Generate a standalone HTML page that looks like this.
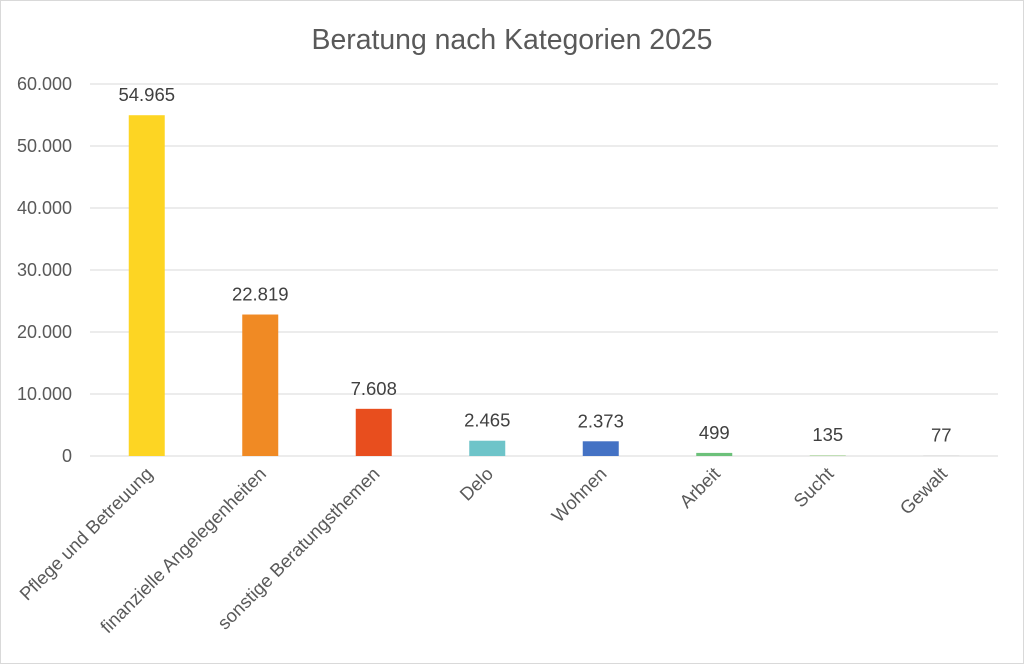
<!DOCTYPE html>
<html><head><meta charset="utf-8"><style>
body{margin:0;background:#fff}
svg{display:block;font-family:"Liberation Sans",sans-serif}
</style></head><body>
<svg id="c" width="1024" height="664">
<rect x="0.5" y="0.5" width="1023" height="663" fill="#fff" stroke="#d9d9d9"/>
<text x="512" y="49" text-anchor="middle" font-size="28.4" fill="#595959">Beratung nach Kategorien 2025</text>
<g id="grid"></g><g id="bars"></g>
</svg>
<script>
const categories=["Pflege und Betreuung","finanzielle Angelegenheiten","sonstige Beratungsthemen","Delo","Wohnen","Arbeit","Sucht","Gewalt"];
const values=[54965,22819,7608,2465,2373,499,135,77];
const valueLabels=["54.965","22.819","7.608","2.465","2.373","499","135","77"];
const colors=["#FDD523","#F08A24","#E84E1E","#6EC4C9","#4472C4","#6CC17A","#B5D9A8","#C8C8C8"];
const ticks=[0,10000,20000,30000,40000,50000,60000];
const tickLabels=["0","10.000","20.000","30.000","40.000","50.000","60.000"];
const NS="http://www.w3.org/2000/svg";
const x0=90,x1=998,y0=456,yTop=84,yMax=60000;
const y=v=>y0-(v/yMax)*(y0-yTop);
const slot=(x1-x0)/categories.length;
const xc=i=>x0+slot*(i+0.5);
function mk(t,a,p){const e=document.createElementNS(NS,t);for(const k in a)e.setAttribute(k,a[k]);p.appendChild(e);return e;}
const g=document.getElementById('grid'),b=document.getElementById('bars');
ticks.forEach((t,i)=>{
 const l=mk('line',{x1:x0,x2:x1,y1:y(t),y2:y(t),stroke:'#d9d9d9','stroke-width':1},g);
 
 
 const tx=mk('text',{x:72,y:y(t)+6,'text-anchor':'end','font-size':18,fill:'#595959'},g);
 tx.textContent=tickLabels[i];
 
 
});
const w=36;
values.forEach((v,i)=>{
 const r=mk('rect',{x:xc(i)-w/2,y:y(v),width:w,height:Math.max(y0-y(v),0.5),fill:colors[i]},b);
 
 
 const lb=mk('text',{x:xc(i),y:y(v)-14,'text-anchor':'middle','font-size':18.5,fill:'#404040'},b);
 lb.textContent=valueLabels[i];
 
 
 const cx=xc(i)+7,cy=475;
 const ct=mk('text',{x:cx,y:cy,'text-anchor':'end','font-size':18.5,fill:'#595959',transform:`rotate(-45 ${cx} ${cy})`},b);
 ct.textContent=categories[i];
 
 
});
</script>
</body></html>
